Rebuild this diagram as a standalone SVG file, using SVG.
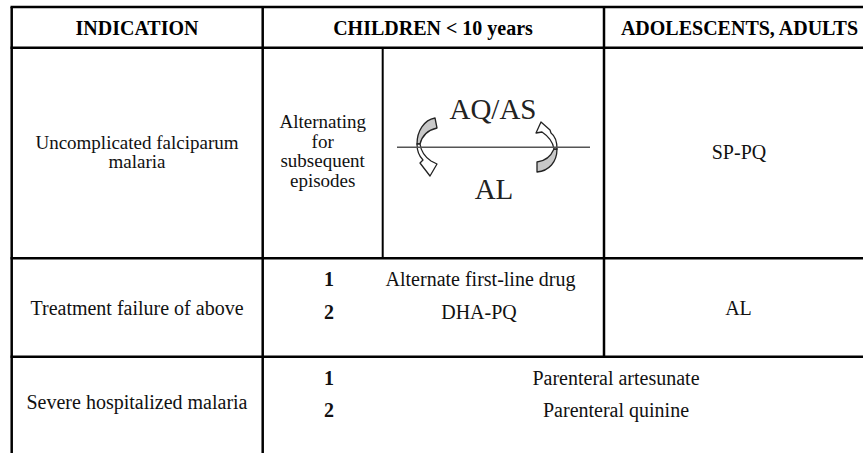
<svg xmlns="http://www.w3.org/2000/svg" width="863" height="453" viewBox="0 0 863 453">
<style>
  .grid line { stroke:#000; stroke-width:2.5; }
  text { font-family:'Liberation Serif','DejaVu Serif',serif; }
  .t { font-size:20px; fill:#111; text-anchor:middle; }
  .s { font-size:19px; fill:#111; text-anchor:middle; }
  .h { font-size:20px; font-weight:bold; fill:#000; text-anchor:middle; }
  .n { font-size:20px; font-weight:bold; fill:#111; text-anchor:middle; }
  .big { font-size:29px; fill:#222; text-anchor:middle; }
  .back { fill:#c8c8c8; stroke:#222; stroke-width:1.3; stroke-linejoin:round; }
  .front { fill:#fff; stroke:#222; stroke-width:1.3; stroke-linejoin:round; }
</style>
<rect width="863" height="453" fill="#fff"/>
<g id="grid" class="grid">
  <line x1="10.5" y1="7" x2="863" y2="7"/>
  <line x1="10.5" y1="47.7" x2="863" y2="47.7"/>
  <line x1="10.5" y1="258.3" x2="863" y2="258.3"/>
  <line x1="10.5" y1="356.7" x2="863" y2="356.7"/>
  <line x1="11.7" y1="7" x2="11.7" y2="453"/>
  <line x1="262.7" y1="7" x2="262.7" y2="453"/>
  <line x1="604" y1="7" x2="604" y2="356.7"/>
  <line x1="382.7" y1="47.7" x2="382.7" y2="258.3" style="stroke-width:2"/>
</g>
<g id="header">
  <text class="h" x="137" y="35">INDICATION</text>
  <text class="h" x="433" y="35">CHILDREN &lt; 10 years</text>
  <text class="h" x="739.5" y="35">ADOLESCENTS, ADULTS</text>
</g>
<g id="row-uncomplicated">
  <text class="s" x="137" y="148.5">Uncomplicated falciparum</text>
  <text class="s" x="137" y="168">malaria</text>
  <g id="alternating">
    <text class="s" x="322.7" y="128.3">Alternating</text>
    <text class="s" x="322.7" y="147.5">for</text>
    <text class="s" x="322.7" y="167">subsequent</text>
    <text class="s" x="322.7" y="186.5">episodes</text>
  </g>
  <g id="cycle">
    <text class="big" x="493" y="119">AQ/AS</text>
    <text class="big" x="494" y="199">AL</text>
    <g id="cycle-arrows">
      <path class="back" d="M435,118 L437,128 C428,130 422,136 420,144 L417,144 C417,131 424,120 435,118 Z"/>
      <path class="front" d="M417,144 C417,151 419,156 423,160 L420,163 L430,176 L437,164 L431,161 C425,157 421,151 420,144 Z"/>
      <path class="back" d="M537,162 C545,161 551,156 554,149 L557,149 C557,162 549,171 537,172 Z"/>
      <path class="front" d="M557,149 C557,141 555,136 551,133 L550,130 L541,122 L536,133 L542,132 C548,136 553,142 554,149 Z"/>
    </g>
    <line x1="397" y1="147.3" x2="590" y2="147.3" stroke="#555" stroke-width="1.5"/>
  </g>
  <text class="t" x="739" y="158.5">SP-PQ</text>
</g>
<g id="row-failure">
  <text class="t" x="137" y="314.5">Treatment failure of above</text>
  <text class="n" x="329" y="286">1</text>
  <text class="t" x="480.5" y="286">Alternate first-line drug</text>
  <text class="n" x="329" y="318.5">2</text>
  <text class="t" x="479" y="318.5">DHA-PQ</text>
  <text class="t" x="738.5" y="314.5">AL</text>
</g>
<g id="row-severe">
  <text class="t" x="137" y="408.5">Severe hospitalized malaria</text>
  <text class="n" x="329" y="385">1</text>
  <text class="t" x="616" y="385">Parenteral artesunate</text>
  <text class="n" x="329" y="416.5">2</text>
  <text class="t" x="616" y="416.5">Parenteral quinine</text>
</g>
</svg>
